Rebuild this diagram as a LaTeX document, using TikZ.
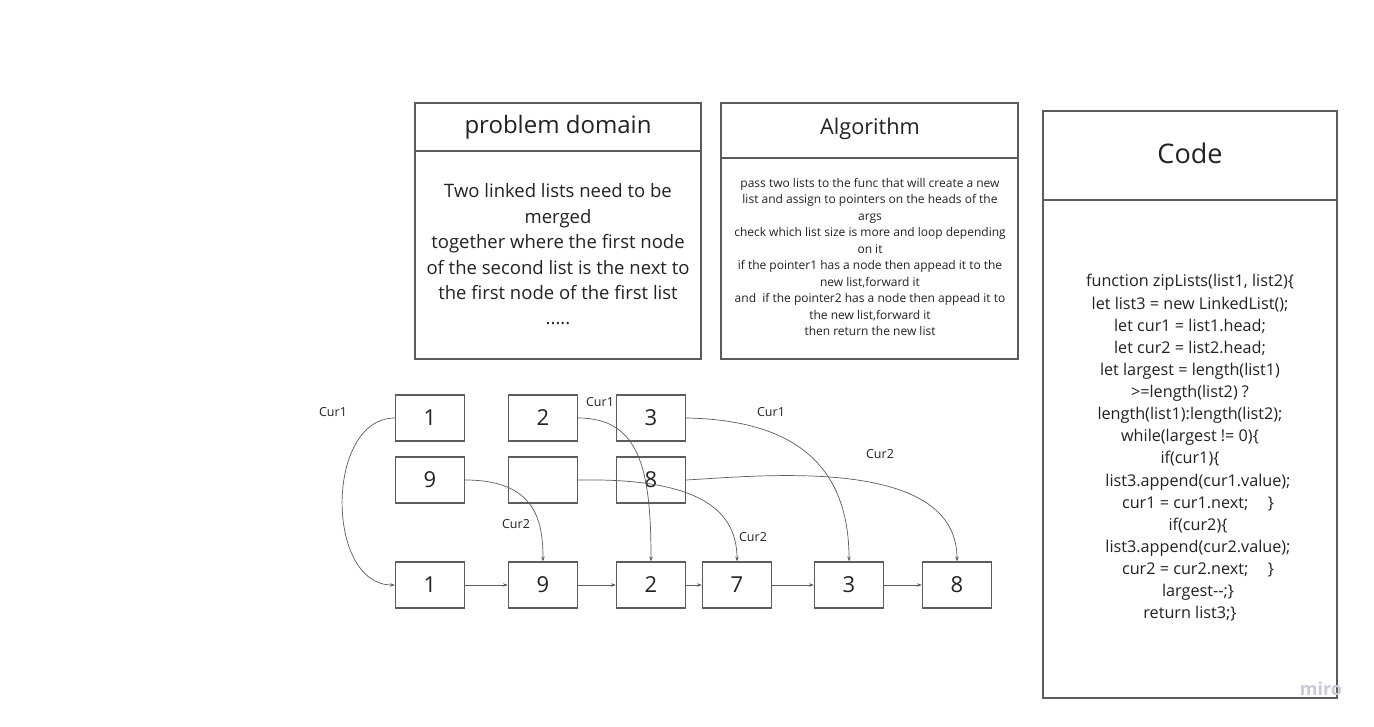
\documentclass[tikz,border=0pt]{standalone}
\usepackage{fontspec}
\setmainfont{Open Sans}
\usetikzlibrary{arrows.meta}
\definecolor{edgec}{HTML}{5C5C5C}
\definecolor{txtc}{HTML}{222222}
\definecolor{miroc}{HTML}{C9C9D9}
\tikzset{
  panel/.style={draw=edgec, line width=1.2pt},
  lbox/.style={draw=edgec, line width=1.2pt, minimum width=69pt, minimum height=46pt, inner sep=0pt, text=txtc, font=\fontsize{22}{26}\selectfont},
  link/.style={draw=edgec, line width=0.7pt, -{Stealth[length=5pt,width=3.5pt]}},
  curlab/.style={text=txtc, font=\fontsize{12.5}{15}\selectfont, inner sep=0pt},
  title/.style={text=txtc, inner sep=0pt},
}
\newcommand{\ind}{\hspace*{16pt}}
\begin{document}
\begin{tikzpicture}[x=1pt,y=-1pt]
\useasboundingbox (0,0) rectangle (1374,727);
\fill[white] (0,0) rectangle (1374,727);

% panels
\draw[panel] (415,103) rectangle (701,359);
\draw[panel] (415,151) -- (701,151);
\draw[panel] (721,103) rectangle (1018,359);
\draw[panel] (721,158) -- (1018,158);
\draw[panel] (1043,111) rectangle (1337,698);
\draw[panel] (1043,200) -- (1337,200);

\node[title, font=\fontsize{24}{28}\selectfont] (pdt) at (558,127) {problem domain};
\node[title, font=\fontsize{21.7}{25}\selectfont] (alt) at (870,129) {Algorithm};
\node[title, font=\fontsize{27}{32}\selectfont] (cdt) at (1190,153) {Code};

\node[text=txtc, align=center, font=\fontsize{18.5}{25.4}\selectfont, inner sep=0pt] (pdb) at (558,254.5) {Two linked lists need to be\\merged\\together where the first node\\of the second list is the next to\\the first node of the first list\\.....};

\node[text=txtc, align=center, font=\fontsize{12}{16.44}\selectfont, inner sep=0pt] (alb) at (870,257) {pass two lists to the func that will create a new\\list and assign to pointers on the heads of the\\args\\check which list size is more and loop depending\\on it\\if the pointer1 has a node then appead it to the\\new list,forward it\\and\ \ if the pointer2 has a node then appead it to\\the new list,forward it\\then return the new list};

\node[text=txtc, align=center, font=\fontsize{16.2}{22.13}\selectfont, inner sep=0pt] (cdb) at (1190,448) {function zipLists(list1, list2)\{\\let list3 = new LinkedList();\\let cur1 = list1.head;\\let cur2 = list2.head;\\let largest = length(list1)\\>=length(list2) ?\\length(list1):length(list2);\\while(largest != 0)\{\\if(cur1)\{\\\ind list3.append(cur1.value);\\\ind cur1 = cur1.next;\hspace{1.2em}\}\\\ind if(cur2)\{\\\ind list3.append(cur2.value);\\\ind cur2 = cur2.next;\hspace{1.2em}\}\\\ind largest-{}-;\}\\return list3;\}};

% list boxes
\node[lbox] (a1) at (430,418) {1};
\node[lbox] (a2) at (543,418) {2};
\node[lbox] (a3) at (651,418) {3};
\node[lbox] (b1) at (430,480) {9};
\node[lbox] (b2) at (543,480) {};
\node[lbox] (b3) at (651,480) {8};
\node[lbox] (c1) at (430,585) {1};
\node[lbox] (c2) at (543,585) {9};
\node[lbox] (c3) at (651,585) {2};
\node[lbox] (c4) at (737,585) {7};
\node[lbox] (c5) at (849,585) {3};
\node[lbox] (c6) at (957,585) {8};

% bottom chain
\draw[link] (c1) -- (c2);
\draw[link] (c2) -- (c3);
\draw[link] (c3) -- (c4);
\draw[link] (c4) -- (c5);
\draw[link] (c5) -- (c6);

% curves
\draw[link] (a1.west) .. controls (325,418) and (325,585) .. (c1.west);
\draw[link] (a2.east) .. controls (640,418) and (651,470) .. (c3.north);
\draw[link] (b1.east) .. controls (535,480) and (543,520) .. (c2.north);
\draw[link] (b2.east) .. controls (690,478) and (737,505) .. (c4.north);
\draw[link] (a3.east) .. controls (800,420) and (849,470) .. (c5.north);
\draw[link] (b3.east) .. controls (760,476) and (957,455) .. (c6.north);

% labels
\node[curlab] (l1) at (333,412) {Cur1};
\node[curlab] (l2) at (600,402) {Cur1};
\node[curlab] (l3) at (771,412) {Cur1};
\node[curlab] (l4) at (880,454) {Cur2};
\node[curlab] (l5) at (516,524) {Cur2};
\node[curlab] (l6) at (753,537) {Cur2};

\node[text=miroc, font=\fontsize{18}{20}\selectfont\bfseries, inner sep=0pt] (miro) at (1321,689) {miro};
\end{tikzpicture}
\end{document}
